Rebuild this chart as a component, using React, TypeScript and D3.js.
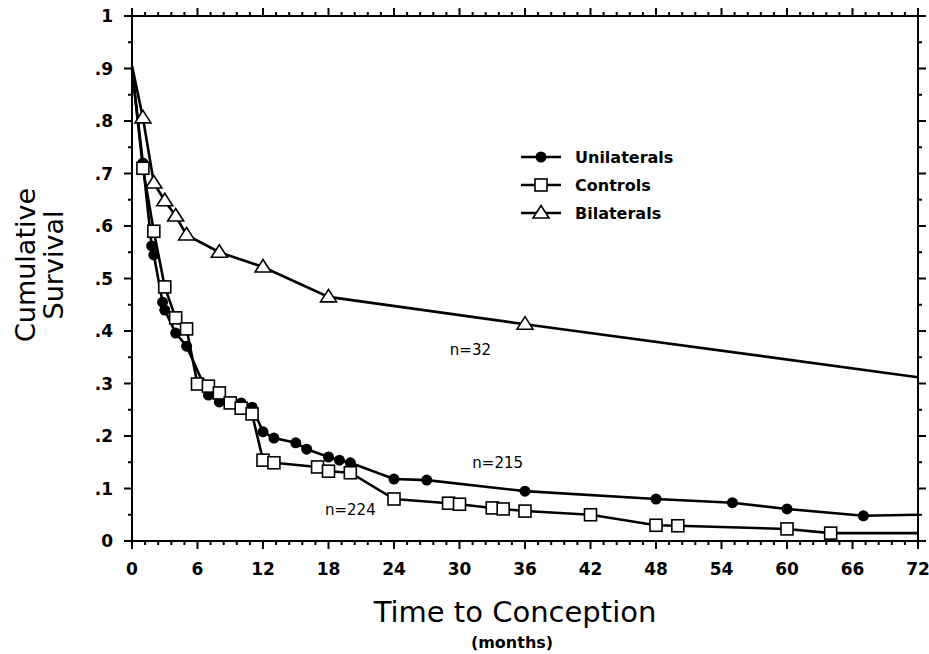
import React from "react";
import * as d3 from "d3";

const unilatMonths = [0, 1, 1.8, 2, 2.8, 3, 4, 5, 7, 8, 10, 11, 12, 13, 15, 16, 18, 19, 20, 24, 27, 36, 48, 55, 60, 67, 72];
const unilatValues = [0.9, 0.72, 0.562, 0.545, 0.455, 0.44, 0.396, 0.371, 0.278, 0.265, 0.263, 0.255, 0.208, 0.196, 0.187, 0.175, 0.16, 0.154, 0.149, 0.118, 0.116, 0.095, 0.08, 0.073, 0.061, 0.048, 0.05];

const controlMonths = [0, 1, 2, 3, 4, 5, 6, 7, 8, 9, 10, 11, 12, 13, 17, 18, 20, 24, 29, 30, 33, 34, 36, 42, 48, 50, 60, 64, 72];
const controlValues = [0.9, 0.71, 0.59, 0.484, 0.425, 0.404, 0.299, 0.295, 0.282, 0.263, 0.253, 0.242, 0.154, 0.149, 0.141, 0.133, 0.13, 0.08, 0.072, 0.07, 0.063, 0.061, 0.057, 0.05, 0.03, 0.029, 0.023, 0.015, 0.015];

const bilatMonths = [0, 1, 2, 3, 4, 5, 8, 12, 18, 36, 72];
const bilatValues = [0.905, 0.806, 0.682, 0.648, 0.619, 0.583, 0.55, 0.522, 0.465, 0.413, 0.312];

const xTickValues = [0, 6, 12, 18, 24, 30, 36, 42, 48, 54, 60, 66, 72];
const yTickValues = [0, 0.1, 0.2, 0.3, 0.4, 0.5, 0.6, 0.7, 0.8, 0.9, 1];
const yTickLabels = ["0", ".1", ".2", ".3", ".4", ".5", ".6", ".7", ".8", ".9", "1"];

const legendNames = ["Unilaterals", "Controls", "Bilaterals"];
const annotations = [
  { text: "n=32", m: 31, v: 0.355 },
  { text: "n=215", m: 33.5, v: 0.14 },
  { text: "n=224", m: 20, v: 0.05 },
];

const W = 929, H = 654;
const x = d3.scaleLinear().domain([0, 72]).range([132, 918]);
const y = d3.scaleLinear().domain([0, 1]).range([541, 16]);

const tickFont = "'DejaVu Sans', Verdana, sans-serif";

function Marker({ kind, cx, cy }: { kind: string; cx: number; cy: number }) {
  if (kind === "circle") return <circle cx={cx} cy={cy} r={5.5} fill="#000" />;
  if (kind === "square")
    return <rect x={cx - 6} y={cy - 6} width={12} height={12} fill="#fff" stroke="#000" strokeWidth={1.6} />;
  return (
    <path
      d={`M${cx},${cy - 7.5} L${cx + 8},${cy + 5} L${cx - 8},${cy + 5} Z`}
      fill="#fff"
      stroke="#000"
      strokeWidth={1.6}
    />
  );
}

export default function App() {
  const line = d3
    .line<[number, number]>()
    .x((d) => x(d[0]))
    .y((d) => y(d[1]));
  const series = [
    { kind: "circle", m: unilatMonths, v: unilatValues },
    { kind: "square", m: controlMonths, v: controlValues },
    { kind: "triangle", m: bilatMonths, v: bilatValues },
  ];
  const xMinor = d3.range(0, 72.001, 1.2);
  const yMinor = d3.range(0, 1.0001, 0.05);
  const isMajorX = (t: number) => Math.abs(t / 6 - Math.round(t / 6)) < 1e-6;
  const isMajorY = (t: number) => Math.abs(t * 10 - Math.round(t * 10)) < 1e-6;
  const [x0, x1] = x.range();
  const [y0, y1] = y.range();

  return (
    <svg width={W} height={H} style={{ position: "absolute", left: 0, top: 0, background: "#fff" }}>
      <rect x={x0} y={y1} width={x1 - x0} height={y0 - y1} fill="none" stroke="#000" strokeWidth={2} />
      {xMinor.map((t, i) => {
        const len = isMajorX(t) ? 8 : 4;
        return (
          <g key={"xt" + i} stroke="#000" strokeWidth={2}>
            <line x1={x(t)} x2={x(t)} y1={y0} y2={y0 + len} />
            <line x1={x(t)} x2={x(t)} y1={y1} y2={y1 - len} />
          </g>
        );
      })}
      {yMinor.map((t, i) => {
        const len = isMajorY(t) ? 8 : 4;
        return (
          <g key={"yt" + i} stroke="#000" strokeWidth={2}>
            <line x1={x0} x2={x0 - len} y1={y(t)} y2={y(t)} />
            <line x1={x1} x2={x1 + len} y1={y(t)} y2={y(t)} />
          </g>
        );
      })}
      {xTickValues.map((t) => (
        <text key={"xl" + t} x={x(t)} y={575} textAnchor="middle" fontFamily={tickFont} fontWeight="bold" fontSize={17}>
          {t}
        </text>
      ))}
      {yTickValues.map((t, i) => (
        <text key={"yl" + i} x={113} y={y(t) + 6} textAnchor="end" fontFamily={tickFont} fontWeight="bold" fontSize={17}>
          {yTickLabels[i]}
        </text>
      ))}
      <text x={515} y={622} textAnchor="middle" fontFamily={tickFont} fontSize={29}>
        Time to Conception
      </text>
      <text x={512} y={648} textAnchor="middle" fontFamily={tickFont} fontWeight="bold" fontSize={16}>
        (months)
      </text>
      <g transform="translate(0,265) rotate(-90)">
        <text x={0} y={35} textAnchor="middle" fontFamily={tickFont} fontSize={27}>
          Cumulative
        </text>
        <text x={0} y={63} textAnchor="middle" fontFamily={tickFont} fontSize={27}>
          Survival
        </text>
      </g>
      {series.map((s) => (
        <path
          key={"l" + s.kind}
          d={line(s.m.map((m, i) => [m, s.v[i]] as [number, number])) || ""}
          fill="none"
          stroke="#000"
          strokeWidth={2.6}
        />
      ))}
      {series.map((s) =>
        s.m.map((m, i) => {
          if (i === s.m.length - 1 || i === 0) return null;
          return <Marker key={s.kind + i} kind={s.kind} cx={x(m)} cy={y(s.v[i])} />;
        })
      )}
      {legendNames.map((name, i) => {
        const ly = 157 + i * 28;
        const kind = series[i].kind;
        return (
          <g key={"lg" + i}>
            <line x1={521} x2={561} y1={ly} y2={ly} stroke="#000" strokeWidth={2.6} />
            <Marker kind={kind} cx={541} cy={ly} />
            <text x={575} y={ly + 6} fontFamily={tickFont} fontWeight="bold" fontSize={16}>
              {name}
            </text>
          </g>
        );
      })}
      {annotations.map((a) => (
        <text key={a.text} x={x(a.m)} y={y(a.v)} textAnchor="middle" fontFamily={tickFont} fontSize={15}>
          {a.text}
        </text>
      ))}
    </svg>
  );
}
